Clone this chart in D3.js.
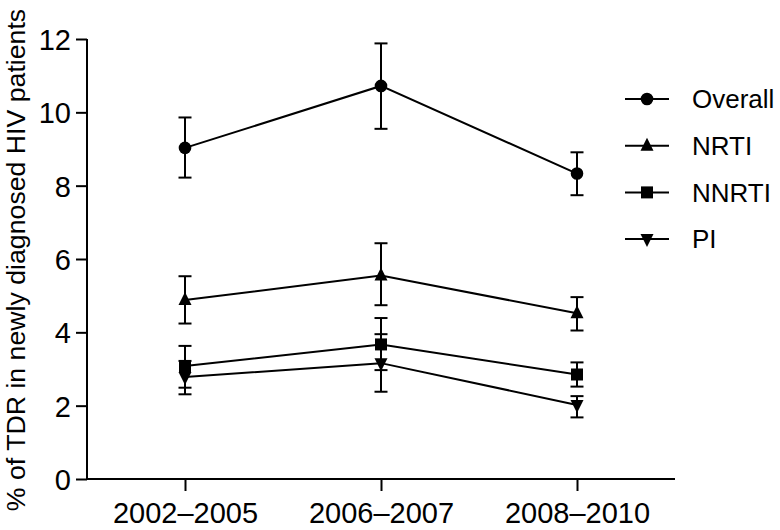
<!DOCTYPE html>
<html>
<head>
<meta charset="utf-8">
<script src="https://cdn.jsdelivr.net/npm/d3@7/dist/d3.min.js"></script>
<style>
  html, body { margin: 0; padding: 0; background: #fff; }
  svg { display: block; font-family: "Liberation Sans", Arial, sans-serif; }
</style>
</head>
<body>
<svg id="chart" width="780" height="530"></svg>
<script>
// ---- data ----
const periods = ["2002\u20132005", "2006\u20132007", "2008\u20132010"];
const seriesNames = ["Overall", "NRTI", "NNRTI", "PI"];
const overallMean = [9.03, 10.72, 8.33];
const overallLow  = [8.22, 9.55, 7.74];
const overallHigh = [9.86, 11.88, 8.91];
const nrtiMean = [4.88, 5.55, 4.52];
const nrtiLow  = [4.24, 4.74, 4.05];
const nrtiHigh = [5.53, 6.43, 4.96];
const nnrtiMean = [3.08, 3.67, 2.85];
const nnrtiLow  = [2.49, 2.97, 2.52];
const nnrtiHigh = [3.63, 4.39, 3.18];
const piMean = [2.78, 3.16, 2.02];
const piLow  = [2.31, 2.38, 1.68];
const piHigh = [3.22, 3.95, 2.26];
const yTicks = [0, 2, 4, 6, 8, 10, 12];
const yLabel = "% of TDR in newly diagnosed HIV patients";

const series = [
  { name: seriesNames[0], mean: overallMean, low: overallLow, high: overallHigh, sym: "circle" },
  { name: seriesNames[1], mean: nrtiMean, low: nrtiLow, high: nrtiHigh, sym: "triUp" },
  { name: seriesNames[2], mean: nnrtiMean, low: nnrtiLow, high: nnrtiHigh, sym: "square" },
  { name: seriesNames[3], mean: piMean, low: piLow, high: piHigh, sym: "triDown" }
];

// ---- layout ----
const svg = d3.select("#chart");
const x0 = 87, x1 = 675, yTop = 39, yBot = 479;
const x = d3.scalePoint().domain(periods).range([x0, x1]).padding(0.5);
const y = d3.scaleLinear().domain([0, 12]).range([yBot, yTop]);
const tickFont = 29;
const legendFont = 26;
const labelFont = 26.7;
const strokeW = 2;

// axes
const yAxis = d3.axisLeft(y).tickValues(yTicks).tickSize(11).tickPadding(5).tickFormat(d3.format("d"));
const gy = svg.append("g").attr("transform", `translate(${x0},0)`).call(yAxis);
const xAxis = d3.axisBottom(x).tickSize(12).tickPadding(11);
const gx = svg.append("g").attr("transform", `translate(0,${yBot})`).call(xAxis);
[gx, gy].forEach(g => {
  g.select(".domain").attr("stroke", "#000").attr("stroke-width", strokeW);
  g.selectAll(".tick line").attr("stroke", "#000").attr("stroke-width", strokeW);
  g.selectAll(".tick text").attr("fill", "#000").style("font-size", tickFont + "px")
    .style("font-family", "Liberation Sans, Arial, sans-serif");
});
gx.select(".domain").attr("d", `M${x0},0H${x1}`);
gy.select(".domain").attr("d", `M0,${yBot}V${yTop}`);
gy.selectAll(".tick text").attr("dy", "0.36em");
gx.selectAll(".tick text").attr("dy", "0.71em");

// y label
svg.append("text")
  .attr("transform", `translate(25,${(yTop + yBot) / 2 + 1}) rotate(-90)`)
  .attr("text-anchor", "middle")
  .style("font-size", labelFont + "px")
  .attr("fill", "#000")
  .text(yLabel);

// symbol path helper
function symPath(type, cx, cy) {
  const g = d3.path();
  if (type === "circle") {
    g.moveTo(cx + 6.3, cy); g.arc(cx, cy, 6.3, 0, 2 * Math.PI);
  } else if (type === "square") {
    const h = 6; g.rect(cx - h, cy - h, 2 * h, 2 * h);
  } else if (type === "triUp") {
    g.moveTo(cx, cy - 8); g.lineTo(cx + 6.5, cy + 5); g.lineTo(cx - 6.5, cy + 5); g.closePath();
  } else if (type === "triDown") {
    g.moveTo(cx, cy + 8); g.lineTo(cx + 6.5, cy - 5); g.lineTo(cx - 6.5, cy - 5); g.closePath();
  }
  return g.toString();
}

const line = d3.line().x(d => x(d.p)).y(d => y(d.v));
const capHalf = 6.5;

series.forEach(s => {
  const pts = periods.map((p, i) => ({ p, v: s.mean[i], lo: s.low[i], hi: s.high[i] }));
  const g = svg.append("g");
  pts.forEach(d => {
    const cx = x(d.p);
    g.append("line").attr("x1", cx).attr("x2", cx).attr("y1", y(d.lo)).attr("y2", y(d.hi))
      .attr("stroke", "#000").attr("stroke-width", strokeW);
    [d.lo, d.hi].forEach(v => {
      g.append("line").attr("x1", cx - capHalf).attr("x2", cx + capHalf).attr("y1", y(v)).attr("y2", y(v))
        .attr("stroke", "#000").attr("stroke-width", strokeW);
    });
  });
  g.append("path").datum(pts).attr("d", line).attr("fill", "none")
    .attr("stroke", "#000").attr("stroke-width", strokeW);
  pts.forEach(d => {
    g.append("path").attr("d", symPath(s.sym, x(d.p), y(d.v))).attr("fill", "#000");
  });
});

// legend
const legX1 = 625, legX2 = 669, legSym = 647, legText = 692, legY0 = 99, legDy = 46.7;
series.forEach((s, i) => {
  const ly = legY0 + i * legDy;
  svg.append("line").attr("x1", legX1).attr("x2", legX2).attr("y1", ly).attr("y2", ly)
    .attr("stroke", "#000").attr("stroke-width", strokeW);
  svg.append("path").attr("d", symPath(s.sym, legSym, ly)).attr("fill", "#000");
  svg.append("text").attr("x", legText).attr("y", ly).attr("dy", "0.36em")
    .style("font-size", legendFont + "px").attr("fill", "#000").text(s.name);
});
</script>
</body>
</html>
